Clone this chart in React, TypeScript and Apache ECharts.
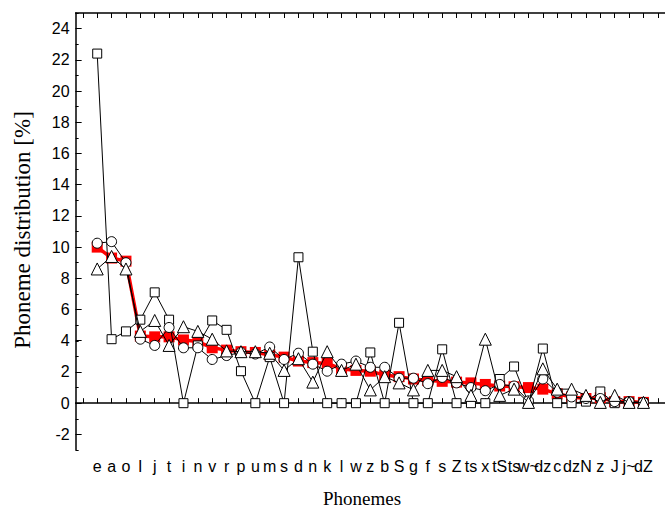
import React, { useEffect, useRef } from "react";
import * as echarts from "echarts";

const phonemes = ["e","a","o","I","j","t","i","n","v","r","p","u","m","s","d","n","k","l","w","z","b","S","g","f","s","Z","ts","x","tS","ts","w~","dz","c","dz","N","z","J","j~","dZ"];

const squareValues = [22.4,4.1,4.6,5.35,7.1,5.35,0,3.7,5.3,4.7,2.05,0,2.95,0,9.35,3.3,0,0,0,3.25,0,5.15,0,0,3.45,0,0,0,1.55,2.35,0,3.5,0,0,0.1,0.75,0,0.05,0];

const circleValues = [10.25,10.35,9.0,4.1,3.7,4.85,3.55,3.55,2.8,3.05,3.25,3.15,3.6,2.8,3.2,2.5,2.05,2.5,2.7,2.3,2.3,1.6,1.6,1.25,1.65,1.3,1.0,0.8,1.2,1.1,0.15,1.55,0.7,0.4,0.3,0.3,0.1,0.1,0.05];

const triangleValues = [8.6,9.4,8.6,4.6,5.3,3.7,4.9,4.6,4.1,3.35,3.3,3.3,3.2,2.1,2.85,1.35,3.3,2.1,2.5,0.85,1.7,1.3,0.85,2.1,2.1,1.7,0.5,4.1,0.5,0.9,0.05,2.2,0.9,0.9,0.5,0.05,0.5,0.05,0.05];

const averageValues = [10.0,9.3,9.1,4.3,4.25,4.25,4.05,3.95,3.55,3.4,3.3,3.25,3.1,2.95,2.7,2.6,2.55,2.2,2.1,2.05,1.8,1.7,1.55,1.45,1.4,1.35,1.3,1.2,1.1,1.05,1.0,0.9,0.6,0.4,0.3,0.35,0.1,0.1,0.05];

const xTitle = "Phonemes";
const yTitle = "Phoneme distribution [%]";

export default function App() {
  const ref = useRef<HTMLDivElement>(null);
  useEffect(() => {
    if (!ref.current) return;
    const chart = echarts.init(ref.current, undefined, { renderer: "svg" });
    const cats = ["", ...phonemes, ""];
    const pad = (a: number[]) => [null, ...a, null];
    const black = "#000";
    const gl = 75.65;
    const gw = 602.7;
    const top = 13;
    const h = 437;
    const unit = h / 28;
    const lineAxis = { show: true, lineStyle: { color: black, width: 1.5 } };
    chart.setOption({
      animation: false,
      backgroundColor: "#fff",
      grid: [
        { left: gl, top: top, width: gw, height: h },
        { left: gl, top: top + unit, width: gw, height: h - 2 * unit },
      ],
      xAxis: [
        {
          type: "category", gridIndex: 0, data: cats, boundaryGap: true, position: "bottom",
          axisLine: lineAxis,
          axisTick: { show: true, inside: true, alignWithLabel: true, interval: 0, length: 5, lineStyle: { color: black, width: 1 } },
          axisLabel: { interval: 0, color: black, fontFamily: "Liberation Sans", fontSize: 16, margin: 8 },
          splitLine: { show: false },
        },
        {
          type: "category", gridIndex: 0, data: cats, boundaryGap: true, position: "top",
          axisLine: lineAxis,
          axisTick: { show: true, inside: true, alignWithLabel: true, interval: 0, length: 5, lineStyle: { color: black, width: 1 } },
          axisLabel: { show: false },
          splitLine: { show: false },
        },
        { type: "category", gridIndex: 1, data: cats, show: false },
      ],
      yAxis: [
        {
          type: "value", gridIndex: 0, min: -3, max: 25, interval: 1,
          axisLine: lineAxis,
          axisTick: { show: true, inside: true, length: 3, lineStyle: { color: black, width: 1 } },
          axisLabel: { show: false },
          splitLine: { show: false },
        },
        {
          type: "value", gridIndex: 1, min: -2, max: 24, interval: 2,
          axisLine: { show: false },
          axisTick: { show: true, inside: true, length: 6, lineStyle: { color: black, width: 1 } },
          axisLabel: { color: black, fontFamily: "Liberation Sans", fontSize: 16, margin: 6 },
          splitLine: { show: false },
        },
      ],
      graphic: [
        {
          type: "text", x: 22, y: 230, rotation: Math.PI / 2,
          style: { text: yTitle, fill: black, fontFamily: "Liberation Serif", fontSize: 23, align: "center", verticalAlign: "middle" },
        },
        {
          type: "text", x: 362, y: 498,
          style: { text: xTitle, fill: black, fontFamily: "Liberation Serif", fontSize: 19, align: "center", verticalAlign: "middle" },
        },
      ],
      series: [
        {
          type: "line", xAxisIndex: 0, yAxisIndex: 0, data: pad(averageValues), z: 2,
          symbol: "rect", symbolSize: 11, showAllSymbol: true,
          itemStyle: { color: "#ff0000" },
          lineStyle: { color: "#ff0000", width: 3.5 },
        },
        {
          type: "line", xAxisIndex: 0, yAxisIndex: 0, data: pad(squareValues), z: 3,
          symbol: "rect", symbolSize: 9, showAllSymbol: true,
          itemStyle: { color: "#fff", borderColor: black, borderWidth: 1 },
          lineStyle: { color: black, width: 1 },
        },
        {
          type: "line", xAxisIndex: 0, yAxisIndex: 0, data: pad(circleValues), z: 4,
          symbol: "circle", symbolSize: 10, showAllSymbol: true,
          itemStyle: { color: "#fff", borderColor: black, borderWidth: 1 },
          lineStyle: { color: black, width: 1 },
        },
        {
          type: "line", xAxisIndex: 0, yAxisIndex: 0, data: pad(triangleValues), z: 5,
          symbol: "triangle", symbolSize: 12, showAllSymbol: true,
          itemStyle: { color: "#fff", borderColor: black, borderWidth: 1 },
          lineStyle: { color: black, width: 1 },
        },
      ],
    });
    return () => chart.dispose();
  }, []);
  return (
    <div
      ref={ref}
      style={{ position: "fixed", left: 0, top: 0, width: 665, height: 510, background: "#fff" }}
    />
  );
}
